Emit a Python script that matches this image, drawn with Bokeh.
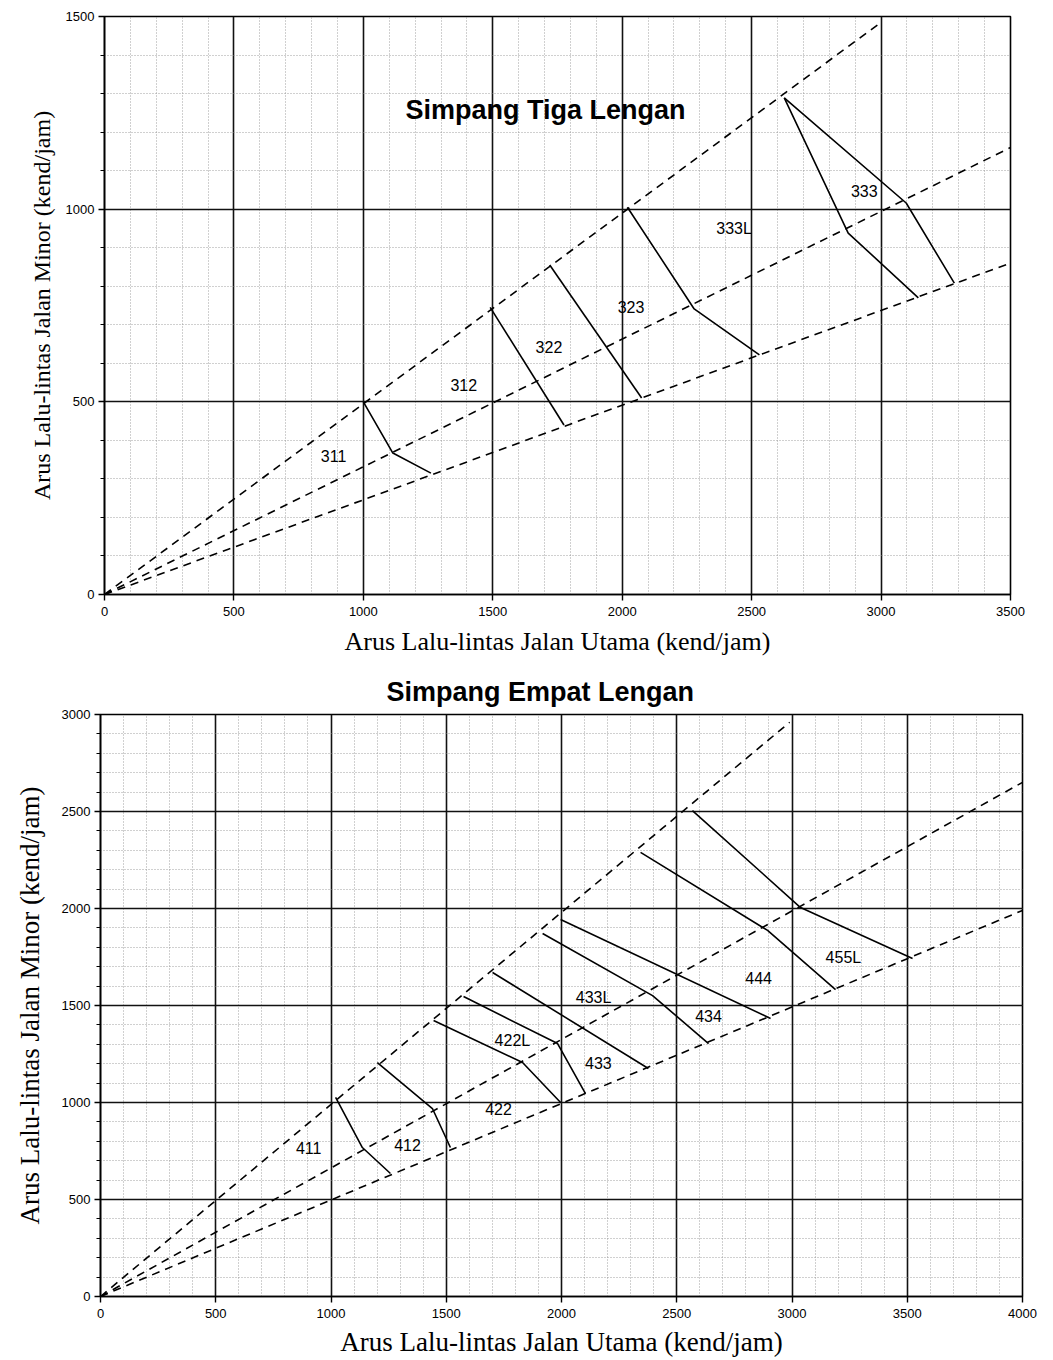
from bokeh.plotting import figure
from bokeh.models import Range1d, SingleIntervalTicker, Title, ColumnDataSource
from bokeh.layouts import column, row
from bokeh.embed import file_html
from bokeh.resources import INLINE
from bokeh.core.properties import value

# ---------------- Simpang Tiga Lengan (3-arm) ----------------
tiga_title = "Simpang Tiga Lengan"
tiga_xmax = 3500
tiga_ymax = 1500

# dashed rays (start, end)
tiga_ray_top_x = [0, 2990]
tiga_ray_top_y = [0, 1480]
tiga_ray_mid_x = [0, 3500]
tiga_ray_mid_y = [0, 1160]
tiga_ray_bot_x = [0, 3500]
tiga_ray_bot_y = [0, 860]

# solid boundary curves
tiga_311_x = [1000, 1114, 1261]
tiga_311_y = [500, 367, 315]
tiga_312_x = [1490, 1775]
tiga_312_y = [745, 440]
tiga_323_x = [1720, 2075]
tiga_323_y = [855, 510]
tiga_333L_x = [2020, 2278, 2530]
tiga_333L_y = [1005, 741, 622]
tiga_333a_x = [2626, 3097, 3283]
tiga_333a_y = [1289, 1016, 808]
tiga_333b_x = [2626, 2873, 3144]
tiga_333b_y = [1289, 938, 770]

tiga_label_text = ["311", "312", "322", "323", "333L", "333"]
tiga_label_x = [885, 1388, 1717, 2034, 2432, 2935]
tiga_label_y = [359, 543, 642, 746, 951, 1048]

# ---------------- Simpang Empat Lengan (4-arm) ----------------
empat_title = "Simpang Empat Lengan"
empat_xmax = 4000
empat_ymax = 3000

empat_ray_top_x = [0, 2990]
empat_ray_top_y = [0, 2960]
empat_ray_mid_x = [0, 4000]
empat_ray_mid_y = [0, 2650]
empat_ray_bot_x = [0, 4000]
empat_ray_bot_y = [0, 1990]

empat_411_x = [1020, 1136, 1258]
empat_411_y = [1026, 768, 634]
empat_412_x = [1201, 1440, 1518]
empat_412_y = [1206, 969, 768]
empat_422_x = [1445, 1831, 1996]
empat_422_y = [1423, 1206, 1000]
empat_422L_x = [1575, 1983, 2104]
empat_422L_y = [1546, 1304, 1046]
empat_433_x = [1701, 2377]
empat_433_y = [1670, 1175]
empat_433L_x = [1918, 2395, 2638]
empat_433L_y = [1871, 1551, 1304]
empat_434_x = [1996, 2907]
empat_434_y = [1943, 1433]
empat_444_x = [2343, 2894, 3189]
empat_444_y = [2289, 1887, 1582]
empat_455L_x = [2568, 3037, 3523]
empat_455L_y = [2505, 2005, 1742]

empat_label_text = ["411", "412", "422", "422L", "433", "433L", "434", "444", "455L"]
empat_label_x = [903, 1332, 1727, 1787, 2160, 2139, 2638, 2855, 3223]
empat_label_y = [763, 783, 964, 1320, 1206, 1541, 1448, 1644, 1747]

x_axis_title = "Arus Lalu-lintas Jalan Utama (kend/jam)"
y_axis_title = "Arus Lalu-lintas Jalan Minor (kend/jam)"

SANS = "Liberation Sans"
SERIF = "Liberation Serif"


def style(p, xlab_size, ylab_size, xlab_standoff, ylab_standoff):
    xt = SingleIntervalTicker(interval=500, num_minor_ticks=5)
    yt = SingleIntervalTicker(interval=500, num_minor_ticks=5)
    p.xaxis.ticker = xt
    p.xgrid.ticker = xt
    p.yaxis.ticker = yt
    p.ygrid.ticker = yt
    for g in (p.xgrid, p.ygrid):
        g.grid_line_color = "#111111"
        g.grid_line_width = 1.6
        g.minor_grid_line_color = "#8f8f8f"
        g.minor_grid_line_width = 1
        g.minor_grid_line_dash = "1 2"
        g.minor_grid_line_alpha = 0.85
    for ax in (p.xaxis, p.yaxis):
        ax.axis_line_color = "black"
        ax.axis_line_width = 1.6
        ax.major_tick_line_color = "black"
        ax.major_tick_line_width = 1.4
        ax.major_tick_out = 6
        ax.major_tick_in = 0
        ax.major_label_text_font = SANS
        ax.major_label_text_font_size = "13px"
        ax.major_label_text_color = "black"
        ax.axis_label_text_font = SERIF
        ax.axis_label_text_font_style = "normal"
        ax.axis_label_text_color = "black"
    p.xaxis.minor_tick_out = 0
    p.xaxis.minor_tick_in = 0
    p.yaxis.minor_tick_out = 4
    p.yaxis.minor_tick_in = 0
    p.yaxis.minor_tick_line_color = "black"
    p.xaxis.major_label_standoff = 6
    p.yaxis.major_label_standoff = 4
    p.xaxis.axis_label = x_axis_title
    p.yaxis.axis_label = y_axis_title
    p.xaxis.axis_label_text_font_size = xlab_size
    p.yaxis.axis_label_text_font_size = ylab_size
    p.xaxis.axis_label_standoff = xlab_standoff
    p.yaxis.axis_label_standoff = ylab_standoff
    p.outline_line_color = "black"
    p.outline_line_width = 1.6
    p.background_fill_color = "white"
    p.border_fill_color = "white"


def draw_rays(p, rays):
    for rx, ry in rays:
        p.line(rx, ry, line_color="black", line_width=1.6, line_dash="8 6")


def draw_curves(p, curves):
    for cx, cy in curves:
        p.line(cx, cy, line_color="black", line_width=1.6)


def draw_labels(p, texts, xs, ys):
    src = ColumnDataSource(dict(x=xs, y=ys, t=texts))
    p.text(x="x", y="y", text="t", source=src, text_align="center",
           text_baseline="middle", text_font=value(SANS),
           text_font_size="16px", text_color="black")


# ---- top figure ----
p1 = figure(frame_width=906, frame_height=578,
            x_range=Range1d(0, tiga_xmax), y_range=Range1d(0, tiga_ymax),
            output_backend="svg", toolbar_location=None,
            min_border_left=104, min_border_right=35,
            min_border_top=16, min_border_bottom=71)
style(p1, "26px", "24px", 8, 8)
draw_rays(p1, [(tiga_ray_top_x, tiga_ray_top_y),
               (tiga_ray_mid_x, tiga_ray_mid_y),
               (tiga_ray_bot_x, tiga_ray_bot_y)])
draw_curves(p1, [(tiga_311_x, tiga_311_y), (tiga_312_x, tiga_312_y),
                 (tiga_323_x, tiga_323_y), (tiga_333L_x, tiga_333L_y),
                 (tiga_333a_x, tiga_333a_y), (tiga_333b_x, tiga_333b_y)])
draw_labels(p1, tiga_label_text, tiga_label_x, tiga_label_y)
p1.text(x=[1704], y=[1258], text=[tiga_title], text_align="center",
        text_baseline="middle", text_font=value(SANS), text_font_style="bold",
        text_font_size="27px", text_color="black")

# ---- bottom figure ----
p2 = figure(frame_width=922, frame_height=582,
            x_range=Range1d(0, empat_xmax), y_range=Range1d(0, empat_ymax),
            output_backend="svg", toolbar_location=None,
            min_border_left=100, min_border_right=23,
            min_border_top=49, min_border_bottom=57)
style(p2, "27px", "27px", 6, 14)
t2 = Title(text=empat_title, align="left", offset=286,
           text_font=SANS, text_font_style="bold", text_font_size="27px",
           text_color="black", standoff=16)
p2.add_layout(t2, "above")
draw_rays(p2, [(empat_ray_top_x, empat_ray_top_y),
               (empat_ray_mid_x, empat_ray_mid_y),
               (empat_ray_bot_x, empat_ray_bot_y)])
draw_curves(p2, [(empat_411_x, empat_411_y), (empat_412_x, empat_412_y),
                 (empat_422_x, empat_422_y), (empat_422L_x, empat_422L_y),
                 (empat_433_x, empat_433_y), (empat_433L_x, empat_433L_y),
                 (empat_434_x, empat_434_y), (empat_444_x, empat_444_y),
                 (empat_455L_x, empat_455L_y)])
draw_labels(p2, empat_label_text, empat_label_x, empat_label_y)

layout = column(row(p1), row(p2), spacing=0)
open("out.html", "w").write(file_html(layout, INLINE))
